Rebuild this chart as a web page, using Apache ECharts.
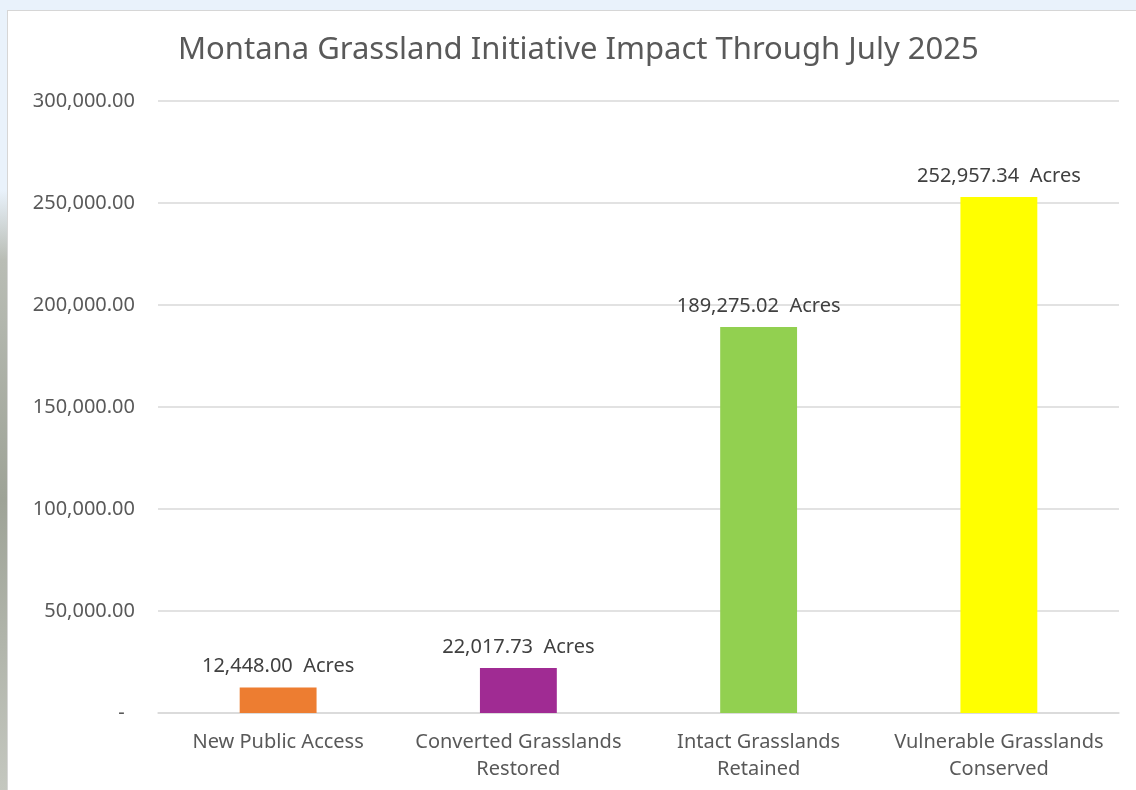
<!DOCTYPE html>
<html>
<head>
<meta charset="utf-8">
<script src="https://cdn.jsdelivr.net/npm/echarts@6/dist/echarts.min.js"></script>
<style>
html,body{margin:0;padding:0;width:1136px;height:790px;overflow:hidden;background:#e9f2fb;}
#strip{position:absolute;left:0;top:0;width:8px;height:790px;background:linear-gradient(to bottom,#e9f2fb 0,#e9f2fb 190px,#b9bdb5 260px,#9ea397 500px,#c4c7bf 790px);}
#chart{position:absolute;left:7px;top:10px;width:1129px;height:780px;background:#fff;border-top:1px solid #d6d6d6;border-left:1px solid #d6d6d6;box-sizing:border-box;}
</style>
</head>
<body>
<div id="strip"></div>
<div id="chart"></div>
<script>
const categories = ["New Public Access", "Converted Grasslands\nRestored", "Intact Grasslands\nRetained", "Vulnerable Grasslands\nConserved"];
const values = [12448.00, 22017.73, 189275.02, 252957.34];
const colors = ["#ED7D31", "#A02B93", "#92D050", "#FFFF00"];
const yTicks = { min: 0, max: 300000, interval: 50000 };

const fmt = v => v.toLocaleString('en-US', {minimumFractionDigits: 2, maximumFractionDigits: 2});
const font = "'Noto Sans', sans-serif";

const chart = echarts.init(document.getElementById('chart'));
chart.setOption({
  animation: false,
  title: {
    text: "Montana Grassland Initiative Impact Through July 2025",
    left: 165, top: 19,
    textStyle: { fontFamily: font, fontSize: 31, fontWeight: 'normal', color: '#595959' }
  },
  grid: { left: 150, right: 17, top: 90, bottom: 77, containLabel: false },
  xAxis: {
    type: 'category',
    data: categories,
    axisTick: { show: false },
    axisLine: { lineStyle: { color: '#d9d9d9', width: 1.5 } },
    axisLabel: { interval: 0, fontFamily: font, fontSize: 20, color: '#595959', margin: 16, lineHeight: 27 }
  },
  yAxis: {
    type: 'value',
    min: yTicks.min, max: yTicks.max, interval: yTicks.interval,
    axisLine: { show: false },
    axisTick: { show: false },
    splitLine: { lineStyle: { color: '#d9d9d9', width: 1.5 } },
    axisLabel: {
      fontFamily: font, fontSize: 20, color: '#595959', margin: 23,
      formatter: v => v === 0 ? '-  ' : fmt(v)
    }
  },
  series: [{
    type: 'bar',
    barWidth: '32%',
    data: values.map((v, i) => ({ value: v, itemStyle: { color: colors[i] } })),
    label: {
      show: true, position: 'top', distance: 11,
      fontFamily: font, fontSize: 20, color: '#404040',
      formatter: p => fmt(p.value) + '  Acres'
    }
  }]
});
</script>
</body>
</html>
